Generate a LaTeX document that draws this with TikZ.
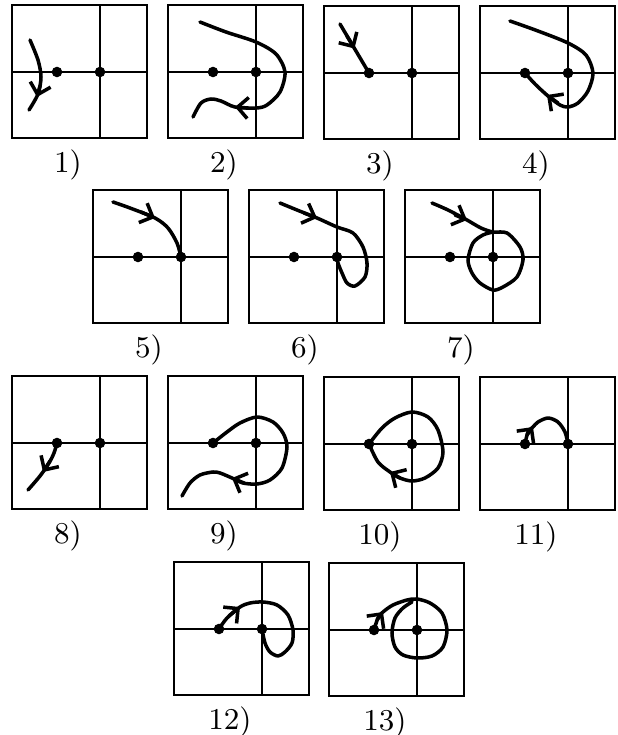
\documentclass[tikz,border=0pt]{standalone}
\usetikzlibrary{arrows.meta}

\tikzset{
  box/.style={line width=0.5pt},
  orbit/.style={line width=1pt, line cap=round, line join=round},
  barb/.style={line width=1pt, line cap=round, -{Straight Barb[length=3pt,width=6pt]}},
  tag/.style={font=\fontsize{8.6}{10}\selectfont},
}

\begin{document}
\begin{tikzpicture}[x=0.01cm, y=0.01cm]

  \useasboundingbox (0,0) rectangle (618,735);

  % frames, axes, the two points and the number of each case
  \foreach \n/\px/\py in {1/100/663, 2/256/663, 3/412/662, 4/568/662,
      5/181/478, 6/337/478, 7/493/478,
      8/100/292, 9/256/292, 10/412/291, 11/568/291,
      12/262/106, 13/417/105} {
    \begin{scope}[shift={(\px,\py)}]
      \draw[box] (-88,-66) rectangle (47,67);
      \draw[box] (-88,0) -- (47,0);
      \draw[box] (0,-66) -- (0,67);
      \fill (-43,0) circle (1.5pt);
      \fill (0,0) circle (1.5pt);
      \node[tag] (tag\n) at (-32,-93) {\n)};
    \end{scope}
  }

  % 1)
  \begin{scope}[shift={(100,663)}]
    \draw[orbit] plot[smooth] coordinates
      {(-70,32) (-62,12) (-59,-5) (-62,-22) (-71,-38)};
    \draw[barb] (-60,-14) -- (-63,-25);
  \end{scope}

  % 2)
  \begin{scope}[shift={(256,663)}]
    \draw[orbit] plot[smooth] coordinates
      {(-56,50) (-30,40) (0,30) (20,18) (29,0) (24,-20) (11,-33) (0,-36)
       (-21,-35) (-35,-29) (-45,-27) (-55,-31) (-63,-45)};
    \draw[barb] (-8,-36) -- (-21,-35);
  \end{scope}

  % 3)
  \begin{scope}[shift={(412,662)}]
    \draw[orbit] (-72,49) -- (-43,0);
    \draw[barb] (-65,37) -- (-57.5,24.5);
  \end{scope}

  % 4)
  \begin{scope}[shift={(568,662)}]
    \draw[orbit] plot[smooth] coordinates
      {(-58,52) (-30,42) (0,30) (18,18) (25,0) (20,-18) (10,-30) (0,-34)
       (-8,-32) (-20,-23) (-33,-11) (-43,0)};
    \draw[barb] (-10,-30) -- (-21,-22);
  \end{scope}

  % 5)
  \begin{scope}[shift={(181,478)}]
    \draw[orbit] plot[smooth] coordinates
      {(-68,55) (-51,49) (-26,39) (-13,29) (-4,14) (0,0)};
    \draw[barb] (-40,45) -- (-26,39);
  \end{scope}

  % 6)
  \begin{scope}[shift={(337,478)}]
    \draw[orbit] plot[smooth] coordinates
      {(-57,54) (-40,47) (-20,39) (0,30) (16,24) (26,10) (30,-6) (28,-20)
       (18,-29) (10,-26) (5,-16) (1,-6) (0,0)};
    \draw[barb] (-33,44) -- (-20,39);
  \end{scope}

  % 7)
  \begin{scope}[shift={(493,478)}]
    \draw[orbit] plot[smooth] coordinates
      {(-61,54) (-45,47) (-26,37) (-12,29) (0,25) (14,24) (27,10) (30,-3)
       (24,-20) (10,-30) (0,-33) (-13,-26) (-21,-16) (-25,-3) (-20,14)
       (-10,22) (0,25)};
    \draw[barb] (-38,42) -- (-26,37);
  \end{scope}

  % 8)
  \begin{scope}[shift={(100,292)}]
    \draw[orbit] plot[smooth] coordinates
      {(-43,0) (-46,-10) (-51,-20) (-60,-33) (-72,-47)};
    \draw[barb] (-50,-18) -- (-57,-29);
  \end{scope}

  % 9)
  \begin{scope}[shift={(256,292)}]
    \draw[orbit] plot[smooth] coordinates
      {(-43,0) (-29,11) (-16,20) (1,26) (17,21) (27,10) (31,-4) (26,-25)
       (14,-37) (1,-41) (-13,-40) (-24,-35) (-36,-30) (-43,-29) (-56,-32)
       (-66,-40) (-74,-53)};
    \draw[barb] (-12,-40) -- (-24,-35);
  \end{scope}

  % 10)
  \begin{scope}[shift={(412,291)}]
    \draw[orbit] plot[smooth] coordinates
      {(-43,0) (-30,16) (-17,26) (0,32) (16,27) (26,14) (31,-8) (26,-24)
       (13,-34) (0,-37) (-12,-34) (-22,-28) (-34,-18) (-43,0)};
    \draw[barb] (-12,-34) -- (-22,-28);
  \end{scope}

  % 11)
  \begin{scope}[shift={(568,291)}]
    \draw[orbit] plot[smooth] coordinates
      {(-43,0) (-40,12) (-35,17) (-30,22) (-20,26) (-10,22) (-3,12) (0,0)};
    \draw[barb] (-41,9) -- (-35,17);
  \end{scope}

  % 12)
  \begin{scope}[shift={(262,106)}]
    \draw[orbit] plot[smooth] coordinates
      {(-43,0) (-35,11) (-22,22) (-12,26) (1,27) (15,24) (26,14) (31,-1)
       (30,-14) (23,-23) (16,-27) (8,-23) (3,-14) (0,0)};
    \draw[barb] (-33,13) -- (-22,22);
  \end{scope}

  % 13)
  \begin{scope}[shift={(417,105)}]
    \draw[orbit] plot[smooth] coordinates
      {(-43,0) (-39,12) (-34,18) (-24,25) (-10,30) (0,31) (13,27) (25,17)
       (30,0) (26,-17) (15,-26) (0,-28) (-14,-25) (-22,-17) (-25,-3)
       (-22,12) (-14,22) (-5,28)};
    \draw[barb] (-40,10) -- (-34,18);
  \end{scope}

\end{tikzpicture}
\end{document}
